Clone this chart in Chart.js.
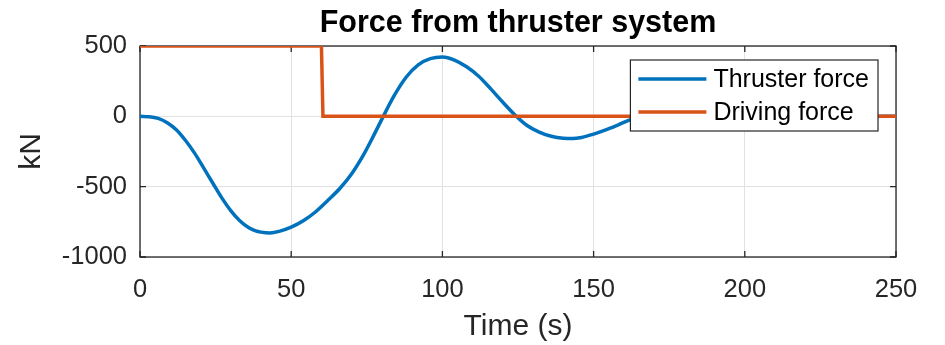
<!DOCTYPE html>
<html>
<head>
<meta charset="utf-8">
<script src="https://cdn.jsdelivr.net/npm/chart.js@4.4.1/dist/chart.umd.min.js"></script>
<style>
  html, body { margin: 0; padding: 0; background: #fff; }
  #wrap { width: 945px; height: 345px; }
</style>
</head>
<body>
<div id="wrap"><canvas id="forceChart"></canvas></div>
<script>
// thruster response (s, kN)
const timeThruster = [0, 3, 6, 9, 12, 15, 18, 21, 24, 27, 30, 33, 36, 38, 40, 43, 46, 50, 54, 58, 62, 66, 70, 74, 77, 80, 84, 88, 92, 96, 100, 104, 108, 112, 116, 120, 124, 128, 132, 136, 140, 143, 146, 150, 154, 158, 162, 166, 170, 180, 190, 200, 210, 220, 230, 240, 250];
const thrusterForce = [0, -3, -15, -45, -95, -170, -260, -365, -472, -578, -670, -742, -792, -812, -823, -829, -818, -788, -743, -680, -600, -515, -408, -270, -148, -20, 145, 278, 366, 410, 422, 400, 352, 285, 195, 100, 10, -65, -112, -142, -156, -158, -150, -127, -97, -62, -25, 3, 15, 25, 20, 8, 0, -5, -4, -1, 0];

// driving force step (s, kN)
const timeDriving = [0, 60, 60.5, 250];
const drivingForce = [500, 500, 0, 0];

const xTicks = [0, 50, 100, 150, 200, 250];
const yTicks = [-1000, -500, 0, 500];

const FONT = '"Liberation Sans", Arial, Helvetica, sans-serif';
const AXIS_COLOR = '#262626';

const toPoints = (xs, ys) => xs.map((x, i) => ({ x: x, y: ys[i] }));

// box around the axes with inward tick marks on all four sides
const axesFrame = {
  id: 'axesFrame',
  beforeDatasetsDraw(chart) {
    const { ctx, chartArea: a, scales } = chart;
    const len = 6;
    ctx.save();
    ctx.strokeStyle = AXIS_COLOR;
    ctx.lineWidth = 1.3;
    ctx.strokeRect(a.left, a.top, a.right - a.left, a.bottom - a.top);
    ctx.beginPath();
    xTicks.forEach(v => {
      const px = scales.x.getPixelForValue(v);
      ctx.moveTo(px, a.bottom); ctx.lineTo(px, a.bottom - len);
      ctx.moveTo(px, a.top); ctx.lineTo(px, a.top + len);
    });
    yTicks.forEach(v => {
      const py = scales.y.getPixelForValue(v);
      ctx.moveTo(a.left, py); ctx.lineTo(a.left + len, py);
      ctx.moveTo(a.right, py); ctx.lineTo(a.right - len, py);
    });
    ctx.stroke();
    ctx.restore();
  }
};

// legend drawn inside the plot, top right
const insideLegend = {
  id: 'insideLegend',
  afterDraw(chart) {
    const { ctx, chartArea: a } = chart;
    const sets = chart.data.datasets;
    ctx.save();
    ctx.font = '25px ' + FONT;
    const textW = Math.max(...sets.map(d => ctx.measureText(d.label).width));
    const pad = 8, lineLen = 68, gap = 7, rowH = 33, vPad = 19;
    const w = pad + lineLen + gap + textW + 9;
    const h = vPad * 2 + rowH * (sets.length - 1);
    const x = a.right - 18 - w;
    const y = a.top + 14;
    ctx.fillStyle = '#fff';
    ctx.fillRect(x, y, w, h);
    ctx.strokeStyle = AXIS_COLOR;
    ctx.lineWidth = 1.2;
    ctx.strokeRect(x, y, w, h);
    sets.forEach((d, i) => {
      const cy = y + vPad + i * rowH;
      ctx.strokeStyle = d.borderColor;
      ctx.lineWidth = 3.5;
      ctx.beginPath();
      ctx.moveTo(x + pad, cy);
      ctx.lineTo(x + pad + lineLen, cy);
      ctx.stroke();
      ctx.fillStyle = '#000';
      ctx.textAlign = 'left';
      ctx.textBaseline = 'middle';
      ctx.fillText(d.label, x + pad + lineLen + gap, cy + 1);
    });
    ctx.restore();
  }
};

new Chart(document.getElementById('forceChart'), {
  type: 'line',
  data: {
    datasets: [
      {
        label: 'Thruster force',
        data: toPoints(timeThruster, thrusterForce),
        borderColor: '#0072BD',
        borderWidth: 3.5,
        cubicInterpolationMode: 'monotone',
        pointRadius: 0,
        fill: false,
        order: 1,
      },
      {
        label: 'Driving force',
        data: toPoints(timeDriving, drivingForce),
        borderColor: '#D95319',
        borderWidth: 3.5,
        tension: 0,
        pointRadius: 0,
        fill: false,
        order: 0,
      },
    ],
  },
  options: {
    responsive: true,
    maintainAspectRatio: false,
    animation: false,
    events: [],
    layout: { padding: { left: 0, right: 49, top: 0, bottom: 0 } },
    plugins: {
      legend: { display: false },
      tooltip: { enabled: false },
      title: {
        display: true,
        text: 'Force from thruster system',
        fullSize: false,
        color: '#000',
        font: { family: FONT, size: 30.5, weight: 'bold', lineHeight: 1.2 },
        padding: { top: 5, bottom: 4.4 },
      },
    },
    scales: {
      x: {
        type: 'linear',
        min: 0,
        max: 250,
        afterBuildTicks: s => { s.ticks = xTicks.map(v => ({ value: v })); },
        afterFit: s => { s.height = 88; },
        grid: { color: '#e2e2e2', lineWidth: 1, drawTicks: false },
        border: { display: false },
        ticks: {
          color: AXIS_COLOR,
          font: { family: FONT, size: 25.5 },
          padding: 18,
          maxRotation: 0,
          callback: v => String(v),
        },
        title: {
          display: true,
          text: 'Time (s)',
          color: AXIS_COLOR,
          font: { family: FONT, size: 30, lineHeight: 1.2 },
          padding: { top: 0, bottom: 0 },
        },
      },
      y: {
        type: 'linear',
        min: -1000,
        max: 500,
        afterBuildTicks: s => { s.ticks = yTicks.map(v => ({ value: v })); },
        afterFit: s => { s.width = 140; },
        grid: { color: '#e2e2e2', lineWidth: 1, drawTicks: false },
        border: { display: false },
        ticks: {
          color: AXIS_COLOR,
          font: { family: FONT, size: 25.5 },
          padding: 13,
          callback: v => String(v),
        },
        title: {
          display: true,
          text: 'kN',
          color: AXIS_COLOR,
          font: { family: FONT, size: 30, lineHeight: 1.2 },
          padding: { top: 14, bottom: 0 },
        },
      },
    },
  },
  plugins: [axesFrame, insideLegend],
});
</script>
</body>
</html>
